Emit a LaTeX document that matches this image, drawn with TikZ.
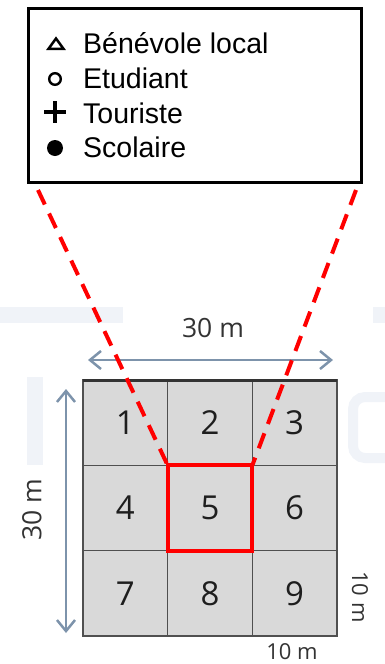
\documentclass[tikz,border=0pt]{standalone}
\usepackage{fontspec}
\setmainfont{Liberation Sans}
\newfontfamily\osans{Open Sans}
\usetikzlibrary{arrows.meta}
\definecolor{cellgray}{RGB}{217,217,217}
\definecolor{gridline}{RGB}{80,80,80}
\definecolor{steel}{RGB}{125,147,171}
\definecolor{wmark}{RGB}{240,243,248}
\definecolor{digit}{RGB}{30,30,30}
\definecolor{zred}{RGB}{255,0,0}
\begin{document}
\begin{tikzpicture}[x=1pt,y=-1pt,
  cell/.style={draw=gridline, line width=1.3pt, fill=cellgray, minimum width=84.67pt, minimum height=85.33pt, inner sep=0pt, outer sep=0pt, font=\osans\fontsize{33}{33}\selectfont, text=digit},
  legtext/.style={anchor=base west, inner sep=0pt, font=\fontsize{28.5}{30}\selectfont},
  dimarrow/.style={draw=steel, line width=2pt, {Straight Barb[length=11pt,width=18pt,line width=2.5pt]}-{Straight Barb[length=11pt,width=18pt,line width=2.5pt]}},
  dimlabel/.style={inner sep=0pt, font=\osans\fontsize{26.5}{27}\selectfont, text=black!80},
  smalldim/.style={inner sep=0pt, font=\osans\fontsize{22}{22}\selectfont, text=black!80},
  zoomline/.style={draw=zred, line width=4pt, dash pattern=on 16pt off 10pt},
  symb/.style={line width=2.5pt, draw=black},
]
\useasboundingbox (0,0) rectangle (385,664);
% faint watermark
\fill[wmark] (0,307) rectangle (123,323);
\fill[wmark] (373,307) rectangle (385,323);
\fill[wmark] (27,377) rectangle (43,465);
\draw[wmark, line width=10pt, rounded corners=12pt] (392,397) -- (353,397) -- (353,458) -- (392,458);
% legend
\node[draw, line width=3pt, minimum width=332.5pt, minimum height=174.5pt, inner sep=0pt, outer sep=0pt] (legend) at (194.75,95.25) {};
\draw[symb, line join=miter] (48.5,48.8) -- (56,38.5) -- (63.5,48.8) -- cycle;
\draw[symb, line width=2.4pt] (55,79) circle (5.8);
\draw[symb, line width=3.8pt] (44,112) -- (66,112) (55,101) -- (55,123);
\fill (55,148) circle (8);
\node[legtext] (t1) at (83,53) {Bénévole local};
\node[legtext] (t2) at (83,88) {Etudiant};
\node[legtext] (t3) at (83,123) {Touriste};
\node[legtext] (t4) at (83,157) {Scolaire};
% grid
\node[cell] (c1) at (125.33,422.67) {1};
\node[cell] (c2) at (210,422.67) {2};
\node[cell] (c3) at (294.67,422.67) {3};
\node[cell] (c4) at (125.33,508) {4};
\node[cell] (c5) at (210,508) {5};
\node[cell] (c6) at (294.67,508) {6};
\node[cell] (c7) at (125.33,593.33) {7};
\node[cell] (c8) at (210,593.33) {8};
\node[cell] (c9) at (294.67,593.33) {9};
\draw[line width=3pt, draw=black!80] (c1.north west) -- (c3.north east);
% dimensions
\coordinate (ha) at (88,360);
\coordinate (hb) at (333,360);
\coordinate (va) at (66,389);
\coordinate (vb) at (66,633);
\draw[dimarrow] (ha) -- (hb);
\draw[dimarrow] (va) -- (vb);
\node[dimlabel] (l1) at (213,328) {30 m};
\node[dimlabel, rotate=90] (l2) at (32,510) {30 m};
\node[smalldim, rotate=-90] (l3) at (360,597) {10 m};
\node[smalldim] (l4) at (292,652) {10 m};
% zoom
\draw[zred, line width=4pt] (c5.north west) rectangle (c5.south east);
\coordinate (z1) at (38,190);
\coordinate (z2) at (356,190);
\draw[zoomline] (z1) -- (c5.north west);
\draw[zoomline] (z2) -- (c5.north east);
\end{tikzpicture}
\end{document}
